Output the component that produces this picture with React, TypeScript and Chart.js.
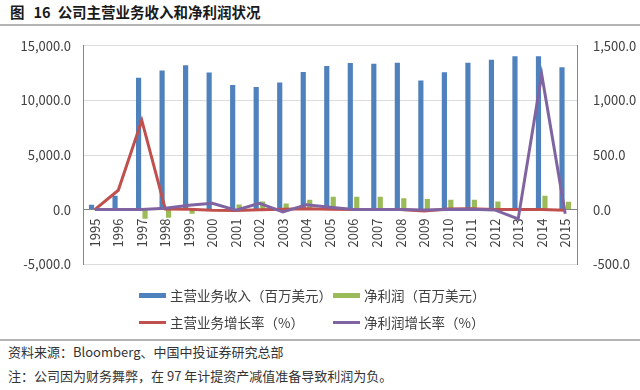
import React, { useEffect, useRef } from 'react';
import { Chart, registerables } from 'chart.js';

Chart.register(...registerables);

const years = ['1995', '1996', '1997', '1998', '1999', '2000', '2001', '2002', '2003', '2004', '2005', '2006', '2007', '2008', '2009', '2010', '2011', '2012', '2013', '2014', '2015'];
const revenue = [450, 1260, 12070, 12730, 13210, 12550, 11410, 11230, 11650, 12610, 13150, 13420, 13360, 13450, 11830, 12580, 13450, 13720, 14050, 14050, 13030];
const netProfit = [10, 20, -840, -750, -390, 40, 470, 750, 570, 900, 1170, 1170, 1170, 1050, 960, 900, 900, 750, 95, 1260, 720];
const revenueGrowth = [0, 177, 817, 5, 4, -5, -9, -2, 4, 8, 4, 2, 0, 1, -12, 6, 7, 2, 2, 0, -7];
const profitGrowth = [0, 0, 0, 12, 40, 57, -5, 57, -22, 45, 21, 0, 0, 0, -4, 0, 3, -3, -85, 1237, -39];

const leftTicks = { min: -5000, max: 15000, step: 5000 };
const rightTicks = { min: -500, max: 1500, step: 500 };

const labels = ['主营业务收入（百万美元）', '净利润（百万美元）', '主营业务增长率（%）', '净利润增长率（%）'];
const colors = ['#4F81BD', '#9BBB59', '#C0504D', '#8064A2'];

const FONT = '"Noto Sans CJK SC", "Noto Sans", sans-serif';
const TEXT = '#404040';

const fmt = (v: number | string) =>
  Number(v).toLocaleString('en-US', { minimumFractionDigits: 1, maximumFractionDigits: 1 });

export default function App() {
  const ref = useRef<HTMLCanvasElement>(null);

  useEffect(() => {
    const chart = new Chart(ref.current as HTMLCanvasElement, {
      type: 'bar',
      data: {
        labels: years,
        datasets: [
          { type: 'bar', label: labels[0], data: revenue, backgroundColor: colors[0], yAxisID: 'y', order: 2, categoryPercentage: 0.55, barPercentage: 0.8 },
          { type: 'bar', label: labels[1], data: netProfit, backgroundColor: colors[1], yAxisID: 'y', order: 2, categoryPercentage: 0.55, barPercentage: 0.8 },
          { type: 'line', label: labels[2], data: revenueGrowth, borderColor: colors[2], backgroundColor: colors[2], borderWidth: 3, pointRadius: 0, yAxisID: 'y1', order: 1 },
          { type: 'line', label: labels[3], data: profitGrowth, borderColor: colors[3], backgroundColor: colors[3], borderWidth: 3, pointRadius: 0, yAxisID: 'y1', order: 0 },
        ] as any,
      },
      options: {
        responsive: false,
        animation: false,
        layout: { padding: 0 },
        plugins: { legend: { display: false }, tooltip: { enabled: false } },
        scales: {
          x: {
            position: { y: 0 } as any,
            grid: { display: false, drawTicks: false },
            border: { display: true, color: '#868686', width: 1 },
            ticks: { minRotation: 90, maxRotation: 90, autoSkip: false, padding: 9, color: TEXT, font: { family: FONT, size: 13 } },
          },
          y: {
            position: 'left',
            min: leftTicks.min,
            max: leftTicks.max,
            ticks: { stepSize: leftTicks.step, padding: 12, color: TEXT, font: { family: FONT, size: 13 }, callback: (v: any) => fmt(v) },
            grid: { color: '#dcdcdc', drawTicks: false },
            border: { display: true, color: '#868686', width: 1 },
            afterFit: (s: any) => { s.width = 83; },
          },
          y1: {
            position: 'right',
            min: rightTicks.min,
            max: rightTicks.max,
            ticks: { stepSize: rightTicks.step, padding: 16, color: TEXT, font: { family: FONT, size: 13 }, callback: (v: any) => fmt(v) },
            grid: { display: false, drawTicks: false },
            border: { display: true, color: '#868686', width: 1 },
            afterFit: (s: any) => { s.width = 63; },
          },
        },
      } as any,
    });
    return () => chart.destroy();
  }, []);

  const legendItem = (i: number, isLine: boolean) => (
    <div style={{ display: 'flex', alignItems: 'center', whiteSpace: 'nowrap' }}>
      <div style={{ width: 27, height: isLine ? 3 : 5, background: colors[i], marginRight: 4 }} />
      <span>{labels[i]}</span>
    </div>
  );

  return (
    <div style={{ position: 'fixed', left: 0, top: 0, width: 640, height: 390, background: '#fff', fontFamily: FONT, overflow: 'hidden' }}>
      <div style={{ position: 'absolute', left: 10, top: 2, fontSize: 14.5, fontWeight: 'bold', color: '#1a1a1a', lineHeight: '20px', whiteSpace: 'nowrap' }}>
        <span>图</span>
        <span style={{ marginLeft: 9 }}>16</span>
        <span style={{ marginLeft: 7 }}>公司主营业务收入和净利润状况</span>
      </div>
      <div style={{ position: 'absolute', left: 0, top: 24, width: 640, height: 2, background: '#b4b4b4' }} />
      <canvas ref={ref} width={640} height={266} style={{ position: 'absolute', left: 0, top: 22, width: 640, height: 266 }} />
      <div style={{ position: 'absolute', left: 139, top: 285, fontSize: 13.5, color: TEXT, lineHeight: '20px' }}>
        <div style={{ display: 'grid', gridTemplateColumns: '194px auto', rowGap: 7 }}>
          {legendItem(0, false)}
          {legendItem(1, false)}
          {legendItem(2, true)}
          {legendItem(3, true)}
        </div>
      </div>
      <div style={{ position: 'absolute', left: 0, top: 339, width: 640, height: 2, background: '#b4b4b4' }} />
      <div style={{ position: 'absolute', left: 8, top: 343, fontSize: 13, color: '#333', lineHeight: '18px', whiteSpace: 'nowrap' }}>
        资料来源：Bloomberg、中国中投证券研究总部
      </div>
      <div style={{ position: 'absolute', left: 8, top: 367, fontSize: 13, color: '#333', lineHeight: '18px', whiteSpace: 'nowrap' }}>
        注：公司因为财务舞弊，在 97 年计提资产减值准备导致利润为负。
      </div>
    </div>
  );
}
